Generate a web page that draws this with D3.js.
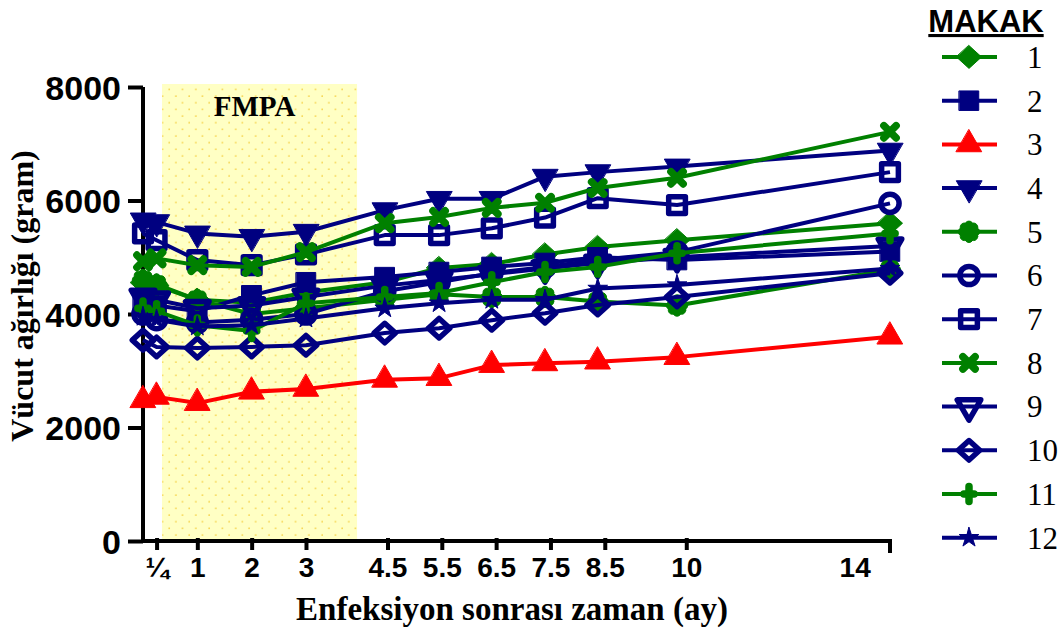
<!DOCTYPE html>
<html>
<head>
<meta charset="utf-8">
<script src="https://cdn.jsdelivr.net/npm/d3@7"></script>
<style>
  body { margin: 0; background: #fff; }
</style>
</head>
<body>
<div id="plot"></div>
<script>
// measured time points (months after infection)
const months = [0, 0.25, 1, 2, 3, 4.45, 5.45, 6.42, 7.4, 8.37, 9.83, 13.75];
const tickMonths = [0.25, 1, 2, 3, 4.5, 5.5, 6.5, 7.5, 8.5, 10, 13.1];
const tickLabels = ["¼", "1", "2", "3", "4.5", "5.5", "6.5", "7.5", "8.5", "10", "14"];
const yTicks = [0, 2000, 4000, 6000, 8000];
const fmpaWindow = [0.35, 3.94];

// body weight (gram) for each macaque
const makak1  = [4550, 4500, 4250, 4200, 4380, 4560, 4810, 4880, 5050, 5180, 5300, 5600];
const makak2  = [4200, 4150, 4050, 4330, 4560, 4650, 4740, 4830, 4900, 5000, 4950, 5100];
const makak3  = [2480, 2540, 2430, 2630, 2680, 2840, 2870, 3100, 3130, 3160, 3240, 3600];
const makak4  = [5650, 5620, 5420, 5360, 5450, 5830, 6030, 6030, 6420, 6500, 6600, 6880];
const makak5  = [4600, 4520, 4250, 4000, 4100, 4250, 4350, 4300, 4300, 4220, 4150, 4780];
const makak6  = [4000, 3900, 3850, 3900, 4000, 4400, 4560, 4720, 4830, 4950, 5090, 5950];
const makak7  = [5420, 5300, 4950, 4860, 5050, 5390, 5390, 5510, 5700, 6040, 5920, 6500];
const makak8  = [4930, 4980, 4860, 4830, 5090, 5600, 5710, 5870, 5960, 6220, 6400, 7210];
const makak9  = [4300, 4250, 4100, 4150, 4300, 4500, 4600, 4700, 4800, 4900, 5000, 5200];
const makak10 = [3540, 3420, 3400, 3420, 3450, 3665, 3750, 3890, 4015, 4160, 4300, 4720];
const makak11 = [4100, 4050, 3800, 3700, 4190, 4300, 4370, 4560, 4740, 4830, 5070, 5420];
const makak12 = [3950, 3900, 3780, 3800, 3920, 4100, 4190, 4250, 4250, 4450, 4510, 4800];

const green = "#008000", navy = "#000080", red = "#ff0000";

// custom marker shapes
const diamond = {
    draw(ctx, size) {
        const r = Math.sqrt(size) / 2;
        ctx.moveTo(0, -r); ctx.lineTo(r * 1.1, 0); ctx.lineTo(0, r); ctx.lineTo(-r * 1.1, 0); ctx.closePath();
    }
};
const flower = {
    draw(ctx, size) {
        const r = Math.sqrt(size) / 2;
        const lr = r * 0.4;
        for (let i = 0; i < 8; i++) {
            const a = i * Math.PI / 4;
            const cx = Math.cos(a) * r * 0.62, cy = Math.sin(a) * r * 0.62;
            ctx.moveTo(cx + lr, cy);
            ctx.arc(cx, cy, lr, 0, 2 * Math.PI);
        }
        ctx.moveTo(r * 0.7, 0);
        ctx.arc(0, 0, r * 0.7, 0, 2 * Math.PI);
    }
};
const xMark = {
    draw(ctx, size) {
        const r = Math.sqrt(size) / 2;
        ctx.moveTo(-r, -r); ctx.lineTo(r, r);
        ctx.moveTo(-r, r); ctx.lineTo(r, -r);
    }
};
const plusMark = {
    draw(ctx, size) {
        const r = Math.sqrt(size) / 2;
        ctx.moveTo(0, -r * 1.3); ctx.lineTo(0, r * 1.3);
        ctx.moveTo(-r * 0.9, 0); ctx.lineTo(r * 0.9, 0);
    }
};

const series = [
    {name: "1",  values: makak1,  color: green, type: diamond,           size: 520, fill: true},
    {name: "2",  values: makak2,  color: navy,  type: d3.symbolSquare,   size: 380, fill: true},
    {name: "3",  values: makak3,  color: red,   type: d3.symbolTriangle, size: 280, fill: true},
    {name: "4",  values: makak4,  color: navy,  type: d3.symbolTriangle, size: 280, fill: true, rot: 180},
    {name: "5",  values: makak5,  color: green, type: flower,            size: 440, fill: true},
    {name: "6",  values: makak6,  color: navy,  type: d3.symbolCircle,   size: 260, fill: false},
    {name: "7",  values: makak7,  color: navy,  type: d3.symbolSquare,   size: 280, fill: false},
    {name: "8",  values: makak8,  color: green, type: xMark,             size: 150, stroke: true},
    {name: "9",  values: makak9,  color: navy,  type: d3.symbolTriangle, size: 240, fill: false, rot: 180},
    {name: "10", values: makak10, color: navy,  type: diamond,           size: 380, fill: false},
    {name: "11", values: makak11, color: green, type: plusMark,          size: 130, stroke: true},
    {name: "12", values: makak12, color: navy,  type: d3.symbolStar,     size: 120, fill: true}
];

const margin = {top: 87, left: 143},
    width = 747,
    height = 454;

const svg = d3.select("#plot")
    .append("svg")
    .attr("width", 1064)
    .attr("height", 632);

const x = d3.scaleLinear().domain([0, 13.75]).range([margin.left, margin.left + width]);
const y = d3.scaleLinear().domain([0, 8000]).range([margin.top + height, margin.top]);

// FMPA shaded window with dotted fill
const defs = svg.append("defs");
const pat = defs.append("pattern")
    .attr("id", "dots")
    .attr("patternUnits", "userSpaceOnUse")
    .attr("width", 13.3).attr("height", 13.3);
pat.append("rect").attr("width", 13.3).attr("height", 13.3).attr("fill", "#ffffc4");
pat.append("circle").attr("cx", 3).attr("cy", 3).attr("r", 0.8).attr("fill", "#f5d040");
pat.append("circle").attr("cx", 9.65).attr("cy", 9.65).attr("r", 0.8).attr("fill", "#f5d040");

svg.append("rect")
    .attr("x", x(fmpaWindow[0]))
    .attr("y", margin.top - 3)
    .attr("width", x(fmpaWindow[1]) - x(fmpaWindow[0]))
    .attr("height", y(0) - margin.top + 3)
    .attr("fill", "url(#dots)");

svg.append("text")
    .attr("x", x((fmpaWindow[0] + fmpaWindow[1]) / 2) - 5)
    .attr("y", 116)
    .attr("text-anchor", "middle")
    .style("font-family", "'Liberation Serif', 'Times New Roman', serif")
    .style("font-weight", "bold")
    .style("font-size", "29px")
    .text("FMPA");

// y axis
const yAxis = svg.append("g")
    .attr("transform", `translate(${margin.left},0)`)
    .call(d3.axisLeft(y).tickValues(yTicks).tickSize(15).tickPadding(7).tickFormat(d3.format("d")));
yAxis.select(".domain").attr("d", `M0,${y(8000)}V${y(0)}`);
yAxis.selectAll("path, line").attr("stroke", "#000").attr("stroke-width", 4);
yAxis.selectAll("text")
    .style("font-family", "'Liberation Sans', Arial, sans-serif")
    .style("font-weight", "bold")
    .style("font-size", "34px")
    .attr("dy", "0.36em")
    .attr("fill", "#000");

// x axis
const xAxis = svg.append("g")
    .attr("transform", `translate(0,${y(0)})`)
    .call(d3.axisBottom(x).tickValues(tickMonths).tickSize(9).tickPadding(7)
        .tickFormat((d, i) => tickLabels[i]));
xAxis.select(".domain").attr("d", `M${margin.left - 2},0H${margin.left + width}V12`);
xAxis.selectAll("path, line").attr("stroke", "#000").attr("stroke-width", 4).attr("fill", "none");
xAxis.selectAll(".tick line").attr("y1", -3);
xAxis.selectAll(".tick").filter((d, i) => i === tickLabels.length - 1).select("line").remove();
xAxis.selectAll("text")
    .style("font-family", "'Liberation Sans', Arial, sans-serif")
    .style("font-weight", "bold")
    .style("font-size", "28px")
    .attr("fill", "#000");

// axis titles
svg.append("text")
    .attr("x", 512)
    .attr("y", 620)
    .attr("text-anchor", "middle")
    .style("font-family", "'Liberation Serif', 'Times New Roman', serif")
    .style("font-weight", "bold")
    .style("font-size", "33px")
    .text("Enfeksiyon sonrası zaman (ay)");

svg.append("text")
    .attr("transform", "translate(33,296) rotate(-90)")
    .attr("text-anchor", "middle")
    .style("font-family", "'Liberation Serif', 'Times New Roman', serif")
    .style("font-weight", "bold")
    .style("font-size", "32px")
    .text("Vücut ağırlığı (gram)");

function markerPath(s) {
    return d3.symbol().type(s.type).size(s.size)();
}
function styleMarker(sel, s) {
    sel.attr("d", markerPath(s))
        .attr("fill", s.fill ? s.color : "none")
        .attr("stroke", s.color)
        .attr("stroke-width", s.stroke ? 7.5 : (s.fill ? 1 : 5.5))
        .attr("stroke-linecap", "round")
        .attr("stroke-linejoin", "round");
}

const line = d3.line()
    .x((d, i) => x(months[i]))
    .y(d => y(d));

series.forEach(s => {
    const g = svg.append("g");
    g.append("path")
        .datum(s.values)
        .attr("fill", "none")
        .attr("stroke", s.color)
        .attr("stroke-width", 4)
        .attr("stroke-linejoin", "round")
        .attr("d", line);
    g.selectAll("path.mark")
        .data(s.values)
        .enter().append("path")
        .attr("class", "mark")
        .attr("transform", (d, i) => `translate(${x(months[i])},${y(d)}) rotate(${s.rot || 0})`)
        .call(styleMarker, s);
});

// legend
svg.append("text")
    .attr("x", 986)
    .attr("y", 32)
    .attr("text-anchor", "middle")
    .style("font-family", "'Liberation Sans', Arial, sans-serif")
    .style("font-weight", "bold")
    .style("font-size", "31px")
    .style("text-decoration", "underline")
    .text("MAKAK");

const legend = svg.selectAll(".legend")
    .data(series)
    .enter().append("g")
    .attr("class", "legend")
    .attr("transform", (d, i) => `translate(0,${57 + i * 43.7})`);

legend.append("line")
    .attr("x1", 942).attr("x2", 997)
    .attr("stroke", d => d.color)
    .attr("stroke-width", 4);

legend.append("path")
    .attr("transform", d => `translate(969,0) rotate(${d.rot || 0})`)
    .each(function(d) { d3.select(this).call(styleMarker, d); });

legend.append("text")
    .attr("x", 1027)
    .attr("y", 0)
    .attr("dy", "0.35em")
    .style("font-family", "'Liberation Serif', 'Times New Roman', serif")
    .style("font-size", "31px")
    .text(d => d.name);
</script>
</body>
</html>
